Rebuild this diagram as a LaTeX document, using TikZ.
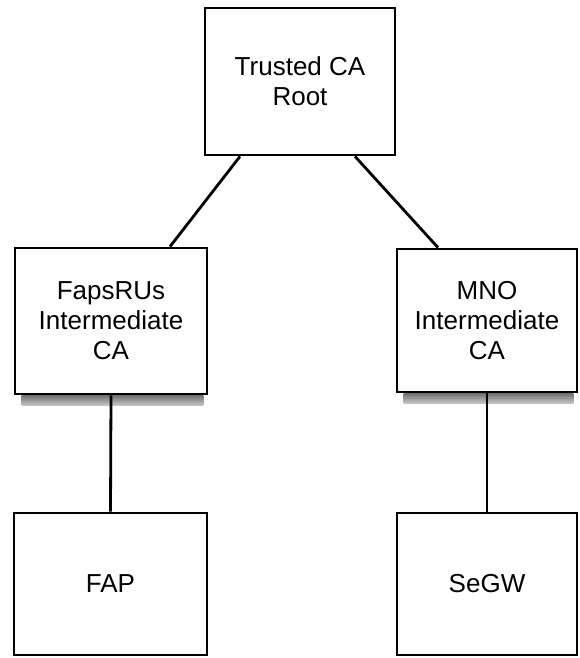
\documentclass[tikz,border=0pt]{standalone}
\usepackage{fontspec}
\setmainfont{Liberation Sans}
\pgfdeclarelayer{background}
\pgfsetlayers{background,main}
\begin{document}
\begin{tikzpicture}[x=1pt,y=-1pt,
  box/.style={draw, line width=2.8pt, inner sep=0pt, align=center,
    font=\fontsize{26}{30}\selectfont},
  conn/.style={line width=2.8pt},
  shadowbar/.style={top color=black!55, bottom color=black!22, draw=none}]
\useasboundingbox (0,0) rectangle (579,658);
\node[box, minimum width=190pt, minimum height=147pt] (top) at (300,81.5) {Trusted CA\\Root};
\node[box, minimum width=192pt, minimum height=146pt] (faps) at (111,321) {FapsRUs\\Intermediate\\CA};
\node[box, minimum width=180pt, minimum height=143pt] (mno) at (487,320.5) {MNO\\Intermediate\\CA};
\node[box, minimum width=193pt, minimum height=142pt] (fap) at (110.5,584) {FAP};
\node[box, minimum width=180pt, minimum height=142pt] (segw) at (487,584) {SeGW};
\begin{pgfonlayer}{background}
\shade[shadowbar] ([xshift=8pt]faps.south west) rectangle ([xshift=-5pt,yshift=-10pt]faps.south east);
\shade[shadowbar] ([xshift=8pt]mno.south west) rectangle ([xshift=-5pt,yshift=-10pt]mno.south east);
\end{pgfonlayer}
\draw[conn] ([xshift=-60pt]top.south) -- ([xshift=59pt]faps.north);
\draw[conn] ([xshift=55pt]top.south) -- ([xshift=-49pt]mno.north);
\draw[conn] (faps.south) -- (fap.north);
\draw[conn] (mno.south) -- (segw.north);
\end{tikzpicture}
\end{document}
